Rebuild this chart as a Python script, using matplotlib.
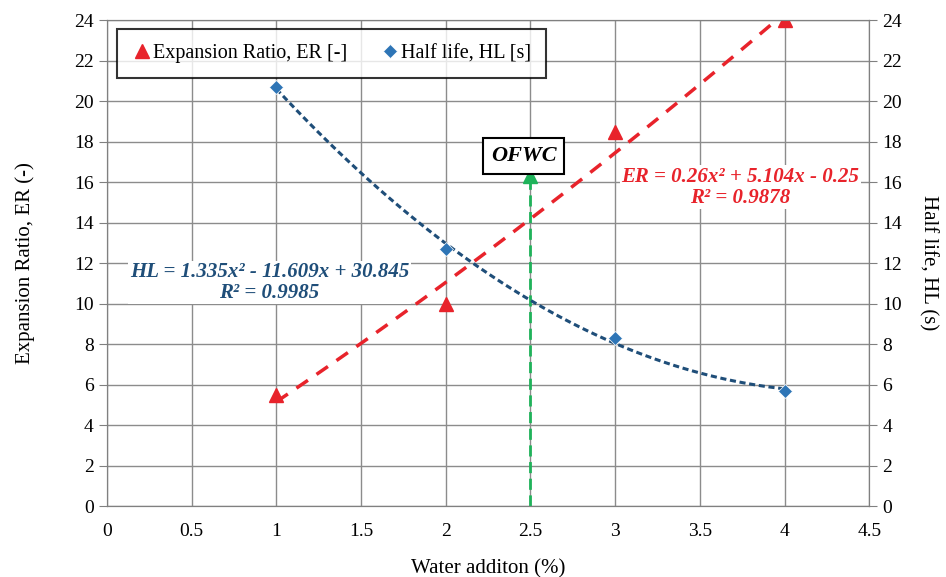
import numpy as np
import matplotlib.pyplot as plt

plt.rcParams['font.family'] = ['Liberation Serif', 'DejaVu Serif']

water = [1, 2, 3, 4]
er = [5.5, 10.0, 18.5, 24.0]
hl = [20.7, 12.7, 8.3, 5.7]
xticks = [0, 0.5, 1, 1.5, 2, 2.5, 3, 3.5, 4, 4.5]
yticks = list(range(0, 25, 2))

red = '#e8232b'
blue = '#2e75b6'
dblue = '#1f4e79'
green = '#1fb35a'

fig = plt.figure(figsize=(9.46, 5.77), dpi=100)
ax = fig.add_axes([0.113, 0.123, 0.806, 0.842])
ax2 = ax.twinx()

for a in (ax, ax2):
    a.set_ylim(0, 24)
    a.set_yticks(yticks)
    a.tick_params(labelsize=14, length=6, color='#808080')
    for s in a.spines.values():
        s.set_color('#808080')
ax.set_xlim(0, 4.5)
ax.set_xticks(xticks)
ax.set_xticklabels([f'{t:g}' for t in xticks])
ax.tick_params(axis='x', length=0, pad=12)
ax.grid(True, color='#8c8c8c', lw=1)
ax.set_axisbelow(True)

# trend lines
xs = np.linspace(1, 4, 100)
p_er = np.polyfit(water, er, 2)
p_hl = np.polyfit(water, hl, 2)
ax.plot(xs, np.polyval(p_er, xs), '--', color=red, lw=2.5, dashes=(4, 3), zorder=3)
ax2.plot(xs, np.polyval(p_hl, xs), '--', color=dblue, lw=2.2, dashes=(2, 1.2), zorder=3)

ax.plot(water, er, '^', color=red, ms=10, ls='none', zorder=4, label='Expansion Ratio, ER [-]')
ax2.plot(water, hl, 'D', color=blue, ms=7.5, ls='none', zorder=4, mec='white', mew=0.5, label='Half life, HL [s]')

# OFWC marker
ax.plot([2.5, 2.5], [0, 16.2], '--', color=green, lw=2, dashes=(4, 2), zorder=3)
ax.plot([2.5], [16.3], '^', color=green, ms=10, zorder=4)
ax.text(2.46, 17.3, 'OFWC', ha='center', va='center', fontsize=16, fontweight='bold', style='italic',
        bbox=dict(boxstyle='square,pad=0.35', fc='white', ec='black', lw=1.5), zorder=6)

ax.text(3.74, 15.75, 'ER = 0.26x² + 5.104x - 0.25\nR² = 0.9878', ha='center', va='center',
        color=red, fontsize=15, fontweight='bold', style='italic', linespacing=1.05,
        bbox=dict(fc='white', ec='none', pad=1), zorder=5)
ax.text(0.96, 11.05, 'HL = 1.335x² - 11.609x + 30.845\nR² = 0.9985', ha='center', va='center',
        color=dblue, fontsize=15, fontweight='bold', style='italic', linespacing=1.05,
        bbox=dict(fc='white', ec='none', pad=1), zorder=5)

h1, l1 = ax.get_legend_handles_labels()
h2, l2 = ax2.get_legend_handles_labels()
leg = ax2.legend(h1 + h2, l1 + l2, loc='upper left', bbox_to_anchor=(0.0, 1.003), ncol=2,
                 fontsize=14.5, frameon=True, fancybox=False, handletextpad=0.05, columnspacing=1.6,
                 borderpad=0.75, handlelength=1.0)
leg.get_frame().set_edgecolor('black')
leg.get_frame().set_linewidth(1.5)
leg.set_zorder(10)

ax.set_xlabel('Water additon (%)', fontsize=15, labelpad=14)
ax.set_ylabel('Expansion Ratio, ER (-)', fontsize=15, labelpad=28)
ax2.set_ylabel('Half life, HL (s)', fontsize=15, rotation=270, labelpad=26)

fig.savefig('out.png', dpi=100)
